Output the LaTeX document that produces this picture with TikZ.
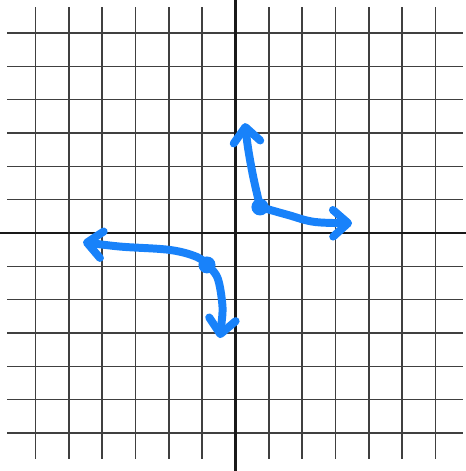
\documentclass[tikz,border=0pt]{standalone}
\usepackage{tikz}
\usetikzlibrary{arrows.meta}
\definecolor{penblue}{RGB}{24,130,250}

\begin{document}
\begin{tikzpicture}[x=0.855cm,y=0.8475cm,
		gridline/.style={line width=1.3pt,black!75},
		axisline/.style={line width=2pt,black!90},
		pen/.style={penblue,line width=6.8pt,line cap=round,line join=round,
			-{Straight Barb[length=4.5mm,width=8mm,round]}},
		pendot/.style={penblue}]
		\useasboundingbox (-8.263,-8.425) rectangle (8.088,8.248);
		
		% Grid paper
		\draw[gridline] (-8,-8) grid (8,8);
		
		% Axes
		\coordinate (L) at (-8.263,0);
		\coordinate (R) at (8.088,0);
		\coordinate (B) at (0,-8.425);
		\coordinate (T) at (0,8.248);
		\draw[axisline] (L) -- (R);
		\draw[axisline] (B) -- (T);
		
		% Points
		\coordinate (P) at (0.86,0.92);
		\coordinate (Q) at (-1.0,-1.13);
		\coordinate (Pup) at (0.33,3.89);
		\coordinate (Pright) at (4.09,0.35);
		\coordinate (Qleft) at (-5.35,-0.32);
		\coordinate (Qdown) at (-0.55,-3.72);
		
		% Upper branch
		\draw[pen] plot[smooth,tension=0.6] coordinates {(P) (0.79,1.24) (0.61,2.05) (0.44,3.01) (Pup)};
		\draw[pen] plot[smooth,tension=0.6] coordinates {(P) (1.84,0.64) (2.79,0.39) (Pright)};
		
		% Lower branch
		\draw[pen] plot[smooth,tension=0.6] coordinates {(Q) (-1.35,-0.85) (-2.30,-0.60) (-4.05,-0.48) (Qleft)};
		\draw[pen] plot[smooth,tension=0.6] coordinates {(Q) (-0.63,-1.59) (-0.46,-2.55) (-0.49,-3.2) (Qdown)};
		
		% Dots
		\fill[pendot] (P) circle (0.3);
		\fill[pendot] (Q) circle (0.3);
		
	\end{tikzpicture}
\end{document}
